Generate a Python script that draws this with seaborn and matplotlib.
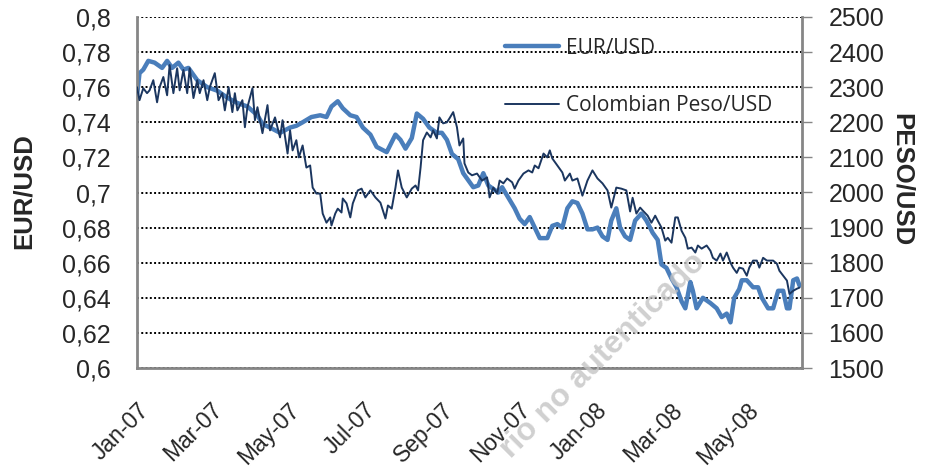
"""EUR/USD vs Colombian Peso/USD, Jan-2007 to Jun-2008 (dual axis)."""
import matplotlib
matplotlib.use("Agg")
import matplotlib.pyplot as plt
from matplotlib.ticker import FuncFormatter
import pandas as pd
import seaborn as sns

# EUR per USD (left axis)
eur_dates = [
    "2007-01-01", "2007-01-03", "2007-01-06", "2007-01-10", "2007-01-15", "2007-01-21",
    "2007-01-25", "2007-01-29", "2007-02-03", "2007-02-07", "2007-02-11", "2007-02-18",
    "2007-02-26", "2007-03-06", "2007-03-14", "2007-03-22", "2007-03-30", "2007-04-07",
    "2007-04-11", "2007-04-17", "2007-04-25", "2007-05-03", "2007-05-08", "2007-05-13",
    "2007-05-20", "2007-05-27", "2007-06-01", "2007-06-05", "2007-06-10", "2007-06-14",
    "2007-06-20", "2007-06-25", "2007-06-30", "2007-07-06", "2007-07-11", "2007-07-19",
    "2007-07-26", "2007-07-30", "2007-08-03", "2007-08-08", "2007-08-12", "2007-08-17",
    "2007-08-22", "2007-08-28", "2007-09-01", "2007-09-05", "2007-09-09", "2007-09-14",
    "2007-09-18", "2007-09-26", "2007-09-30", "2007-10-04", "2007-10-08", "2007-10-16",
    "2007-10-19", "2007-10-24", "2007-10-29", "2007-11-02", "2007-11-06", "2007-11-10",
    "2007-11-14", "2007-11-18", "2007-11-24", "2007-11-28", "2007-12-02", "2007-12-06",
    "2007-12-10", "2007-12-14", "2007-12-18", "2007-12-22", "2007-12-26", "2007-12-30",
    "2008-01-03", "2008-01-07", "2008-01-11", "2008-01-14", "2008-01-18", "2008-01-21",
    "2008-01-25", "2008-01-29", "2008-02-02", "2008-02-07", "2008-02-11", "2008-02-16",
    "2008-02-20", "2008-02-23", "2008-02-27", "2008-03-02", "2008-03-06", "2008-03-10",
    "2008-03-13", "2008-03-17", "2008-03-19", "2008-03-22", "2008-03-27", "2008-04-02",
    "2008-04-07", "2008-04-11", "2008-04-15", "2008-04-18", "2008-04-21", "2008-04-25",
    "2008-04-27", "2008-05-01", "2008-05-06", "2008-05-10", "2008-05-13", "2008-05-18",
    "2008-05-22", "2008-05-26", "2008-05-30", "2008-06-02", "2008-06-04", "2008-06-07",
    "2008-06-10", "2008-06-12",
]
eur_values = [
    0.755, 0.768, 0.770, 0.775, 0.774, 0.771,
    0.775, 0.771, 0.774, 0.770, 0.771, 0.764,
    0.760, 0.758, 0.754, 0.751, 0.749, 0.744,
    0.739, 0.737, 0.734, 0.737, 0.738, 0.740,
    0.743, 0.744, 0.743, 0.749, 0.752, 0.748,
    0.744, 0.743, 0.737, 0.733, 0.726, 0.723,
    0.733, 0.730, 0.725, 0.731, 0.745, 0.742,
    0.737, 0.734, 0.734, 0.730, 0.722, 0.719,
    0.711, 0.703, 0.704, 0.711, 0.704, 0.700,
    0.703, 0.697, 0.691, 0.685, 0.682, 0.686,
    0.680, 0.674, 0.674, 0.681, 0.682, 0.680,
    0.691, 0.695, 0.694, 0.688, 0.679, 0.679,
    0.680, 0.675, 0.673, 0.684, 0.691, 0.680,
    0.675, 0.673, 0.684, 0.688, 0.684, 0.677,
    0.673, 0.659, 0.657, 0.651, 0.646, 0.638,
    0.634, 0.649, 0.644, 0.634, 0.640, 0.637,
    0.634, 0.629, 0.631, 0.626, 0.640, 0.645,
    0.650, 0.650, 0.646, 0.646, 0.640, 0.634,
    0.634, 0.644, 0.644, 0.634, 0.634, 0.650,
    0.651, 0.647,
]

# Colombian pesos per USD (right axis)
cop_dates = [
    "2007-01-01", "2007-01-03", "2007-01-06", "2007-01-09", "2007-01-11", "2007-01-14",
    "2007-01-17", "2007-01-19", "2007-01-22", "2007-01-25", "2007-01-27", "2007-01-30",
    "2007-02-02", "2007-02-04", "2007-02-07", "2007-02-10", "2007-02-12", "2007-02-15",
    "2007-02-18", "2007-02-20", "2007-02-23", "2007-02-26", "2007-02-28", "2007-03-04",
    "2007-03-07", "2007-03-10", "2007-03-12", "2007-03-15", "2007-03-18", "2007-03-20",
    "2007-03-22", "2007-03-26", "2007-03-28", "2007-03-30", "2007-04-03", "2007-04-05",
    "2007-04-07", "2007-04-11", "2007-04-15", "2007-04-17", "2007-04-21", "2007-04-25",
    "2007-04-27", "2007-05-01", "2007-05-03", "2007-05-05", "2007-05-08", "2007-05-10",
    "2007-05-13", "2007-05-16", "2007-05-19", "2007-05-21", "2007-05-24", "2007-05-27",
    "2007-05-29", "2007-06-01", "2007-06-04", "2007-06-05", "2007-06-08", "2007-06-10",
    "2007-06-13", "2007-06-14", "2007-06-17", "2007-06-20", "2007-06-22", "2007-06-26",
    "2007-06-29", "2007-07-02", "2007-07-06", "2007-07-10", "2007-07-14", "2007-07-18",
    "2007-07-20", "2007-07-23", "2007-07-26", "2007-07-28", "2007-07-31", "2007-08-04",
    "2007-08-08", "2007-08-11", "2007-08-13", "2007-08-15", "2007-08-17", "2007-08-20",
    "2007-08-23", "2007-08-25", "2007-08-28", "2007-08-30", "2007-09-02", "2007-09-05",
    "2007-09-07", "2007-09-10", "2007-09-13", "2007-09-15", "2007-09-18", "2007-09-19",
    "2007-09-22", "2007-09-25", "2007-09-29", "2007-10-03", "2007-10-07", "2007-10-09",
    "2007-10-12", "2007-10-15", "2007-10-17", "2007-10-20", "2007-10-23", "2007-10-27",
    "2007-10-29", "2007-11-01", "2007-11-05", "2007-11-09", "2007-11-12", "2007-11-14",
    "2007-11-17", "2007-11-21", "2007-11-24", "2007-11-26", "2007-11-28", "2007-12-02",
    "2007-12-06", "2007-12-08", "2007-12-12", "2007-12-14", "2007-12-18", "2007-12-22",
    "2007-12-26", "2007-12-30", "2008-01-03", "2008-01-07", "2008-01-11", "2008-01-14",
    "2008-01-18", "2008-01-22", "2008-01-26", "2008-01-29", "2008-01-31", "2008-02-03",
    "2008-02-06", "2008-02-08", "2008-02-12", "2008-02-15", "2008-02-18", "2008-02-20",
    "2008-02-23", "2008-02-26", "2008-02-28", "2008-03-02", "2008-03-05", "2008-03-07",
    "2008-03-10", "2008-03-13", "2008-03-15", "2008-03-18", "2008-03-21", "2008-03-23",
    "2008-03-26", "2008-03-30", "2008-04-02", "2008-04-04", "2008-04-07", "2008-04-10",
    "2008-04-12", "2008-04-15", "2008-04-18", "2008-04-20", "2008-04-23", "2008-04-25",
    "2008-04-28", "2008-05-01", "2008-05-03", "2008-05-06", "2008-05-09", "2008-05-11",
    "2008-05-14", "2008-05-17", "2008-05-19", "2008-05-22", "2008-05-25", "2008-05-27",
    "2008-05-30", "2008-06-02", "2008-06-04", "2008-06-07", "2008-06-10", "2008-06-12",
]
cop_values = [
    2300, 2263, 2297, 2283, 2291, 2320,
    2257, 2300, 2329, 2277, 2363, 2283,
    2354, 2291, 2349, 2283, 2354, 2269,
    2320, 2283, 2320, 2263, 2300, 2340,
    2263, 2283, 2234, 2300, 2229, 2283,
    2234, 2263, 2186, 2243, 2297, 2206,
    2243, 2169, 2249, 2177, 2214, 2157,
    2206, 2111, 2177, 2120, 2149, 2100,
    2134, 2071, 2077, 2014, 1997, 1997,
    1940, 1914, 1929, 1906, 1940, 1954,
    1943, 1983, 1969, 1929, 1969, 2006,
    2011, 1986, 2006, 1986, 1971, 1926,
    1963, 1954, 2014, 2063, 2014, 1986,
    2011, 2020, 2006, 2071, 2149, 2171,
    2157, 2177, 2154, 2214, 2197, 2200,
    2211, 2229, 2186, 2134, 2154, 2083,
    2057, 2049, 2054, 2034, 2043, 1986,
    2014, 1997, 2034, 2026, 2040, 2029,
    2011, 2034, 2054, 2063, 2057, 2077,
    2069, 2111, 2100, 2120, 2097, 2077,
    2057, 2034, 2054, 2034, 2040, 1991,
    2034, 2063, 2040, 2026, 2006, 1957,
    2014, 2011, 2006, 1946, 1985, 1940,
    1957, 1949, 1934, 1914, 1934, 1920,
    1900, 1863, 1871, 1857, 1929, 1929,
    1891, 1871, 1840, 1843, 1829, 1849,
    1840, 1849, 1834, 1814, 1806, 1826,
    1806, 1829, 1800, 1786, 1771, 1786,
    1783, 1763, 1786, 1806, 1806, 1786,
    1814, 1806, 1806, 1806, 1797, 1777,
    1763, 1749, 1711, 1720, 1726, 1729,
]

month_ticks = ["2007-01-01", "2007-03-01", "2007-05-01", "2007-07-01", "2007-09-01",
               "2007-11-01", "2008-01-01", "2008-03-01", "2008-05-01"]
month_labels = ["Jan-07", "Mar-07", "May-07", "Jul-07", "Sep-07",
                "Nov-07", "Jan-08", "Mar-08", "May-08"]
eur_ticks = [0.6, 0.62, 0.64, 0.66, 0.68, 0.7, 0.72, 0.74, 0.76, 0.78, 0.8]
cop_ticks = [1500, 1600, 1700, 1800, 1900, 2000, 2100, 2200, 2300, 2400, 2500]

EUR_COLOR = "#4A7EBB"
COP_COLOR = "#1B365F"
SPINE = "#868686"

sns.set_style("white")
plt.rcParams["font.family"] = ["Liberation Sans", "DejaVu Sans"]

eur = pd.DataFrame({"date": pd.to_datetime(eur_dates), "rate": eur_values})
cop = pd.DataFrame({"date": pd.to_datetime(cop_dates), "rate": cop_values})

W, H = 925, 474
fig = plt.figure(figsize=(W / 100, H / 100), dpi=100)
ax = fig.add_axes([137 / W, 1 - 368 / H, (802 - 137) / W, (368 - 17) / H])
ax2 = ax.twinx()

sns.lineplot(data=eur, x="date", y="rate", ax=ax, color=EUR_COLOR, lw=3.2,
             estimator=None, label="EUR/USD", legend=False, solid_joinstyle="round")
sns.lineplot(data=cop, x="date", y="rate", ax=ax2, color=COP_COLOR, lw=1.4,
             estimator=None, label="Colombian Peso/USD", legend=False)

ax.set_xlim(pd.Timestamp("2007-01-01"), pd.Timestamp("2008-06-14"))
ax.set_ylim(0.6, 0.8)
ax2.set_ylim(1500, 2500)

ax.set_yticks(eur_ticks)
ax.yaxis.set_major_formatter(FuncFormatter(lambda v, _: f"{round(v, 2):g}".replace(".", ",")))
ax2.set_yticks(cop_ticks)
ax.set_xticks(pd.to_datetime(month_ticks))
ax.set_xticklabels(month_labels, rotation=45, ha="right", va="top", rotation_mode="anchor")

ax.set_axisbelow(True)
ax.yaxis.grid(True, color="black", linestyle=(0, (1, 1.2)), lw=1.4)
ax.xaxis.grid(False)

for side in ["top", "right"]:
    ax.spines[side].set_visible(False)
for side in ["top", "left", "bottom"]:
    ax2.spines[side].set_visible(False)
ax.spines["left"].set_color(SPINE)
ax.spines["left"].set_linewidth(2)
ax.spines["bottom"].set_color(SPINE)
ax.spines["bottom"].set_linewidth(2)
ax2.spines["right"].set_color(SPINE)
ax2.spines["right"].set_linewidth(2)

ax.tick_params(axis="y", length=0, pad=19, labelsize=18)
ax.tick_params(axis="x", length=0, pad=22, labelsize=16.5)
ax2.tick_params(axis="y", length=7, width=1, color=SPINE, direction="out", pad=12, labelsize=18)
ax.set_xlabel("")
ax.set_ylabel("")
ax2.set_ylabel("")

fig.text(24 / W, 1 - 191 / H, "EUR/USD", rotation=90, ha="center", va="center",
         fontsize=18.5, fontweight="bold")
fig.text(902 / W, 1 - 180 / H, "PESO/USD", rotation=270, ha="center", va="center",
         fontsize=18.5, fontweight="bold")

h1, l1 = ax.get_legend_handles_labels()
h2, l2 = ax2.get_legend_handles_labels()
ax2.legend(h1 + h2, l1 + l2, loc="upper left", bbox_to_anchor=(0.553, 0.941),
           frameon=False, prop={"family": "Open Sans", "size": 15},
           handlelength=2.6, handletextpad=0.35, labelspacing=1.75,
           borderpad=0, borderaxespad=0)

# scanned-document stamp over the chart
fig.text(603 / W, 1 - 355 / H, "rio no autenticado", rotation=45, ha="center", va="center",
         rotation_mode="anchor", fontsize=23, fontweight="bold", color="#c4c4c4",
         alpha=0.8, zorder=10)

fig.savefig("out.png", dpi=100, facecolor="white")
